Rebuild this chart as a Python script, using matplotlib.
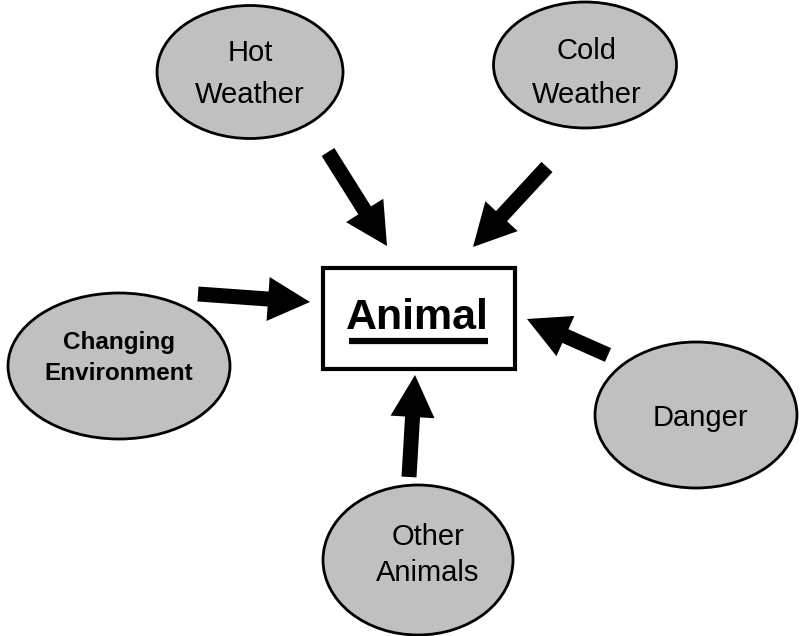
import matplotlib
matplotlib.use("Agg")
import matplotlib.pyplot as plt
from matplotlib.patches import Ellipse, Rectangle, FancyArrow

# bubbles: label, centre, size (pixel units of the 800x636 picture)
labels = ["Hot\nWeather", "Cold\nWeather", "Changing\nEnvironment", "Danger", "Other\nAnimals"]
centres = [(250, 72), (585, 65), (119, 366), (696, 415), (418, 560)]
sizes = [(186, 133), (183, 126), (222, 146), (202, 146), (190, 150)]
text_pos = [(250, 74), (587, 73), (119, 358), (700, 418), (428, 555)]
text_size = [21, 21, 17.5, 21, 21]
text_weight = ["normal", "normal", "bold", "normal", "normal"]
text_spacing = [1.68, 1.7, 1.5, 1.2, 1.4]

# arrows: tail -> tip
tails = [(328, 152), (547, 167), (198, 294), (608, 355), (409, 477)]
tips = [(387, 246), (473, 247), (310, 302), (527, 319), (415, 375)]

center_label = "Animal"

fig = plt.figure(figsize=(8, 6.36), dpi=100)
ax = fig.add_axes([0, 0, 1, 1])
ax.set_xlim(0, 800)
ax.set_ylim(636, 0)
ax.set_aspect("auto")
ax.axis("off")

for (cx, cy), (w, h) in zip(centres, sizes):
    ax.add_patch(Ellipse((cx, cy), w, h, facecolor="#c0c0c0", edgecolor="black", lw=2))

for lab, (tx, ty), fs, fw, ls in zip(labels, text_pos, text_size, text_weight, text_spacing):
    ax.text(tx, ty, lab, ha="center", va="center", fontsize=fs, fontweight=fw,
            family="Liberation Sans", linespacing=ls)

for (x0, y0), (x1, y1) in zip(tails, tips):
    ax.add_patch(FancyArrow(x0, y0, x1 - x0, y1 - y0, width=15, head_width=44,
                            head_length=42, length_includes_head=True,
                            color="black", lw=0))

ax.add_patch(Rectangle((323, 268), 192, 101, facecolor="white", edgecolor="black", lw=3))
ax.text(417, 318, center_label, ha="center", va="center", fontsize=31,
        fontweight="bold", family="Liberation Sans")
ax.plot([349, 488], [341, 341], color="black", lw=4.5, solid_capstyle="butt")

fig.savefig("out.png", dpi=100)
